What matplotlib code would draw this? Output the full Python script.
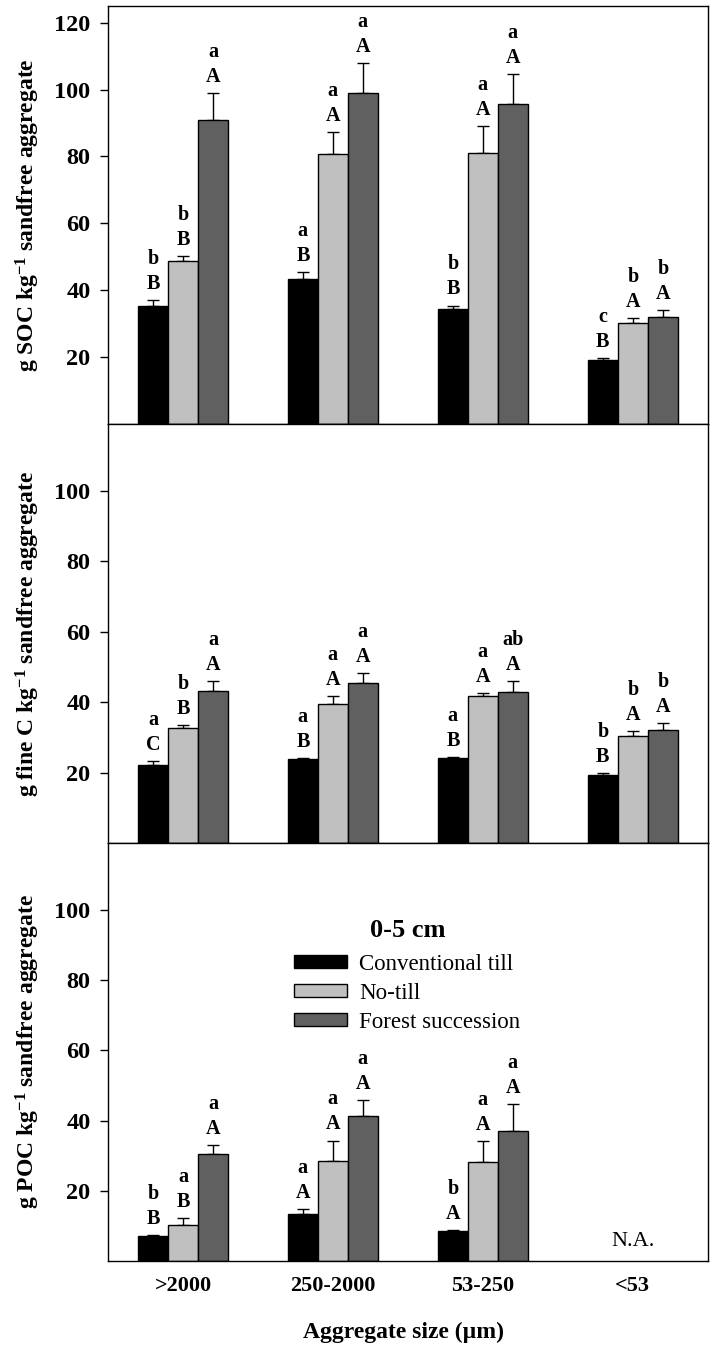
import numpy as np
import matplotlib
matplotlib.use("Agg")
import matplotlib.pyplot as plt

plt.rcParams['font.family'] = ['Liberation Serif', 'DejaVu Serif']
plt.rcParams['mathtext.fontset'] = 'custom'
plt.rcParams['mathtext.rm'] = 'Liberation Serif:bold'
plt.rcParams['mathtext.it'] = 'Liberation Serif:bold'
plt.rcParams['mathtext.bf'] = 'Liberation Serif:bold'

sizes = ['>2000', '250-2000', '53-250', '<53']
treatments = ['Conventional till', 'No-till', 'Forest succession']
colors = ['#000000', '#c0c0c0', '#606060']

# g SOC per kg sandfree aggregate
soc_ct = [35.3, 43.5, 34.3, 19.2]
soc_nt = [48.7, 80.6, 80.9, 30.2]
soc_fs = [90.9, 98.9, 95.6, 32.1]
soc_ct_se = [1.7, 1.9, 1.1, 0.5]
soc_nt_se = [1.6, 6.8, 8.1, 1.4]
soc_fs_se = [8.0, 9.1, 8.9, 1.9]
soc_low = [['b', 'a', 'b', 'c'], ['b', 'a', 'a', 'b'], ['a', 'a', 'a', 'b']]
soc_up = [['B', 'B', 'B', 'B'], ['B', 'A', 'A', 'A'], ['A', 'A', 'A', 'A']]

# g fine C per kg sandfree aggregate
fine_ct = [22.2, 23.9, 24.1, 19.3]
fine_nt = [32.6, 39.5, 41.7, 30.4]
fine_fs = [43.3, 45.5, 43.0, 32.2]
fine_ct_se = [1.0, 0.2, 0.4, 0.6]
fine_nt_se = [1.0, 2.3, 0.9, 1.3]
fine_fs_se = [2.7, 2.8, 3.1, 1.9]
fine_low = [['a', 'a', 'a', 'b'], ['b', 'a', 'a', 'b'], ['a', 'a', 'ab', 'b']]
fine_up = [['C', 'B', 'B', 'B'], ['B', 'A', 'A', 'A'], ['A', 'A', 'A', 'A']]

# g POC per kg sandfree aggregate (<53 not available)
poc_ct = [7.1, 13.4, 8.5, np.nan]
poc_nt = [10.3, 28.6, 28.1, np.nan]
poc_fs = [30.4, 41.3, 37.1, np.nan]
poc_ct_se = [0.4, 1.3, 0.3, np.nan]
poc_nt_se = [2.0, 5.7, 6.0, np.nan]
poc_fs_se = [2.5, 4.5, 7.7, np.nan]
poc_low = [['b', 'a', 'b', ''], ['a', 'a', 'a', ''], ['a', 'a', 'a', '']]
poc_up = [['B', 'A', 'A', ''], ['B', 'A', 'A', ''], ['A', 'A', 'A', '']]

panels = [
    (r'g SOC kg$^{-1}$ sandfree aggregate', [soc_ct, soc_nt, soc_fs],
     [soc_ct_se, soc_nt_se, soc_fs_se], soc_low, soc_up, 125, range(20, 121, 20)),
    (r'g fine C kg$^{-1}$ sandfree aggregate', [fine_ct, fine_nt, fine_fs],
     [fine_ct_se, fine_nt_se, fine_fs_se], fine_low, fine_up, 119, range(20, 101, 20)),
    (r'g POC kg$^{-1}$ sandfree aggregate', [poc_ct, poc_nt, poc_fs],
     [poc_ct_se, poc_nt_se, poc_fs_se], poc_low, poc_up, 119, range(20, 101, 20)),
]

fig = plt.figure(figsize=(7.15, 13.49), dpi=100)
left, right = 0.151, 0.990
bounds = [(0.6857, 0.9956), (0.3751, 0.6857), (0.0652, 0.3751)]

x = np.arange(len(sizes))
w = 0.2
for i, (ylab, vals, errs, low, up, ytop, yticks) in enumerate(panels):
    b0, b1 = bounds[i]
    ax = fig.add_axes([left, b0, right - left, b1 - b0])
    for k in range(3):
        xs = x + (k - 1) * w
        v = np.array(vals[k], dtype=float)
        e = np.array(errs[k], dtype=float)
        ax.bar(xs, v, w, color=colors[k], edgecolor='black', linewidth=1,
               label=treatments[k], zorder=2)
        ax.errorbar(xs, v, yerr=[np.zeros_like(e), e], fmt='none', ecolor='black',
                    elinewidth=1, capsize=4.3, capthick=1, zorder=1)
        for j in range(len(sizes)):
            if np.isnan(v[j]):
                continue
            top = v[j] + e[j]
            ax.annotate(up[k][j], (xs[j], top), xytext=(0, 8), textcoords='offset points',
                        ha='center', va='baseline', fontsize=14.5, fontweight='bold')
            ax.annotate(low[k][j], (xs[j], top), xytext=(0, 26), textcoords='offset points',
                        ha='center', va='baseline', fontsize=14.5, fontweight='bold')
    ax.set_xlim(-0.5, 3.5)
    ax.set_ylim(0, ytop)
    ax.set_yticks(list(yticks))
    ax.tick_params(axis='y', direction='out', length=5.5, width=1, pad=7, labelsize=17.5)
    for t in ax.get_yticklabels():
        t.set_fontweight('bold')
    ax.tick_params(axis='x', length=0, pad=11)
    for s in ax.spines.values():
        s.set_linewidth(1)
    if i < 2:
        ax.set_xticks([])
    else:
        ax.set_xticks(x)
        ax.set_xticklabels(sizes, fontsize=16, fontweight='bold')
        ax.text(x[3], 3, 'N.A.', ha='center', va='bottom', fontsize=16)
        ax.text(0.5, (1261 - 930) / 418, '0-5 cm', transform=ax.transAxes,
                ha='center', va='center', fontsize=19, fontweight='bold')
        ax.legend(loc='upper left', bbox_to_anchor=(0.31, 0.735), frameon=False,
                  fontsize=16.5, handlelength=2.3, handleheight=0.48, handletextpad=0.55,
                  labelspacing=0.35, borderpad=0, borderaxespad=0)
    fig.text(0.039, (b0 + b1) / 2, ylab, rotation=90, ha='center', va='center',
             fontsize=17, fontweight='bold')

fig.text(0.565, 1 - 1332 / 1349, 'Aggregate size (\u00b5m)', ha='center', va='center',
         fontsize=17, fontweight='bold')

fig.savefig('out.png', dpi=100)
